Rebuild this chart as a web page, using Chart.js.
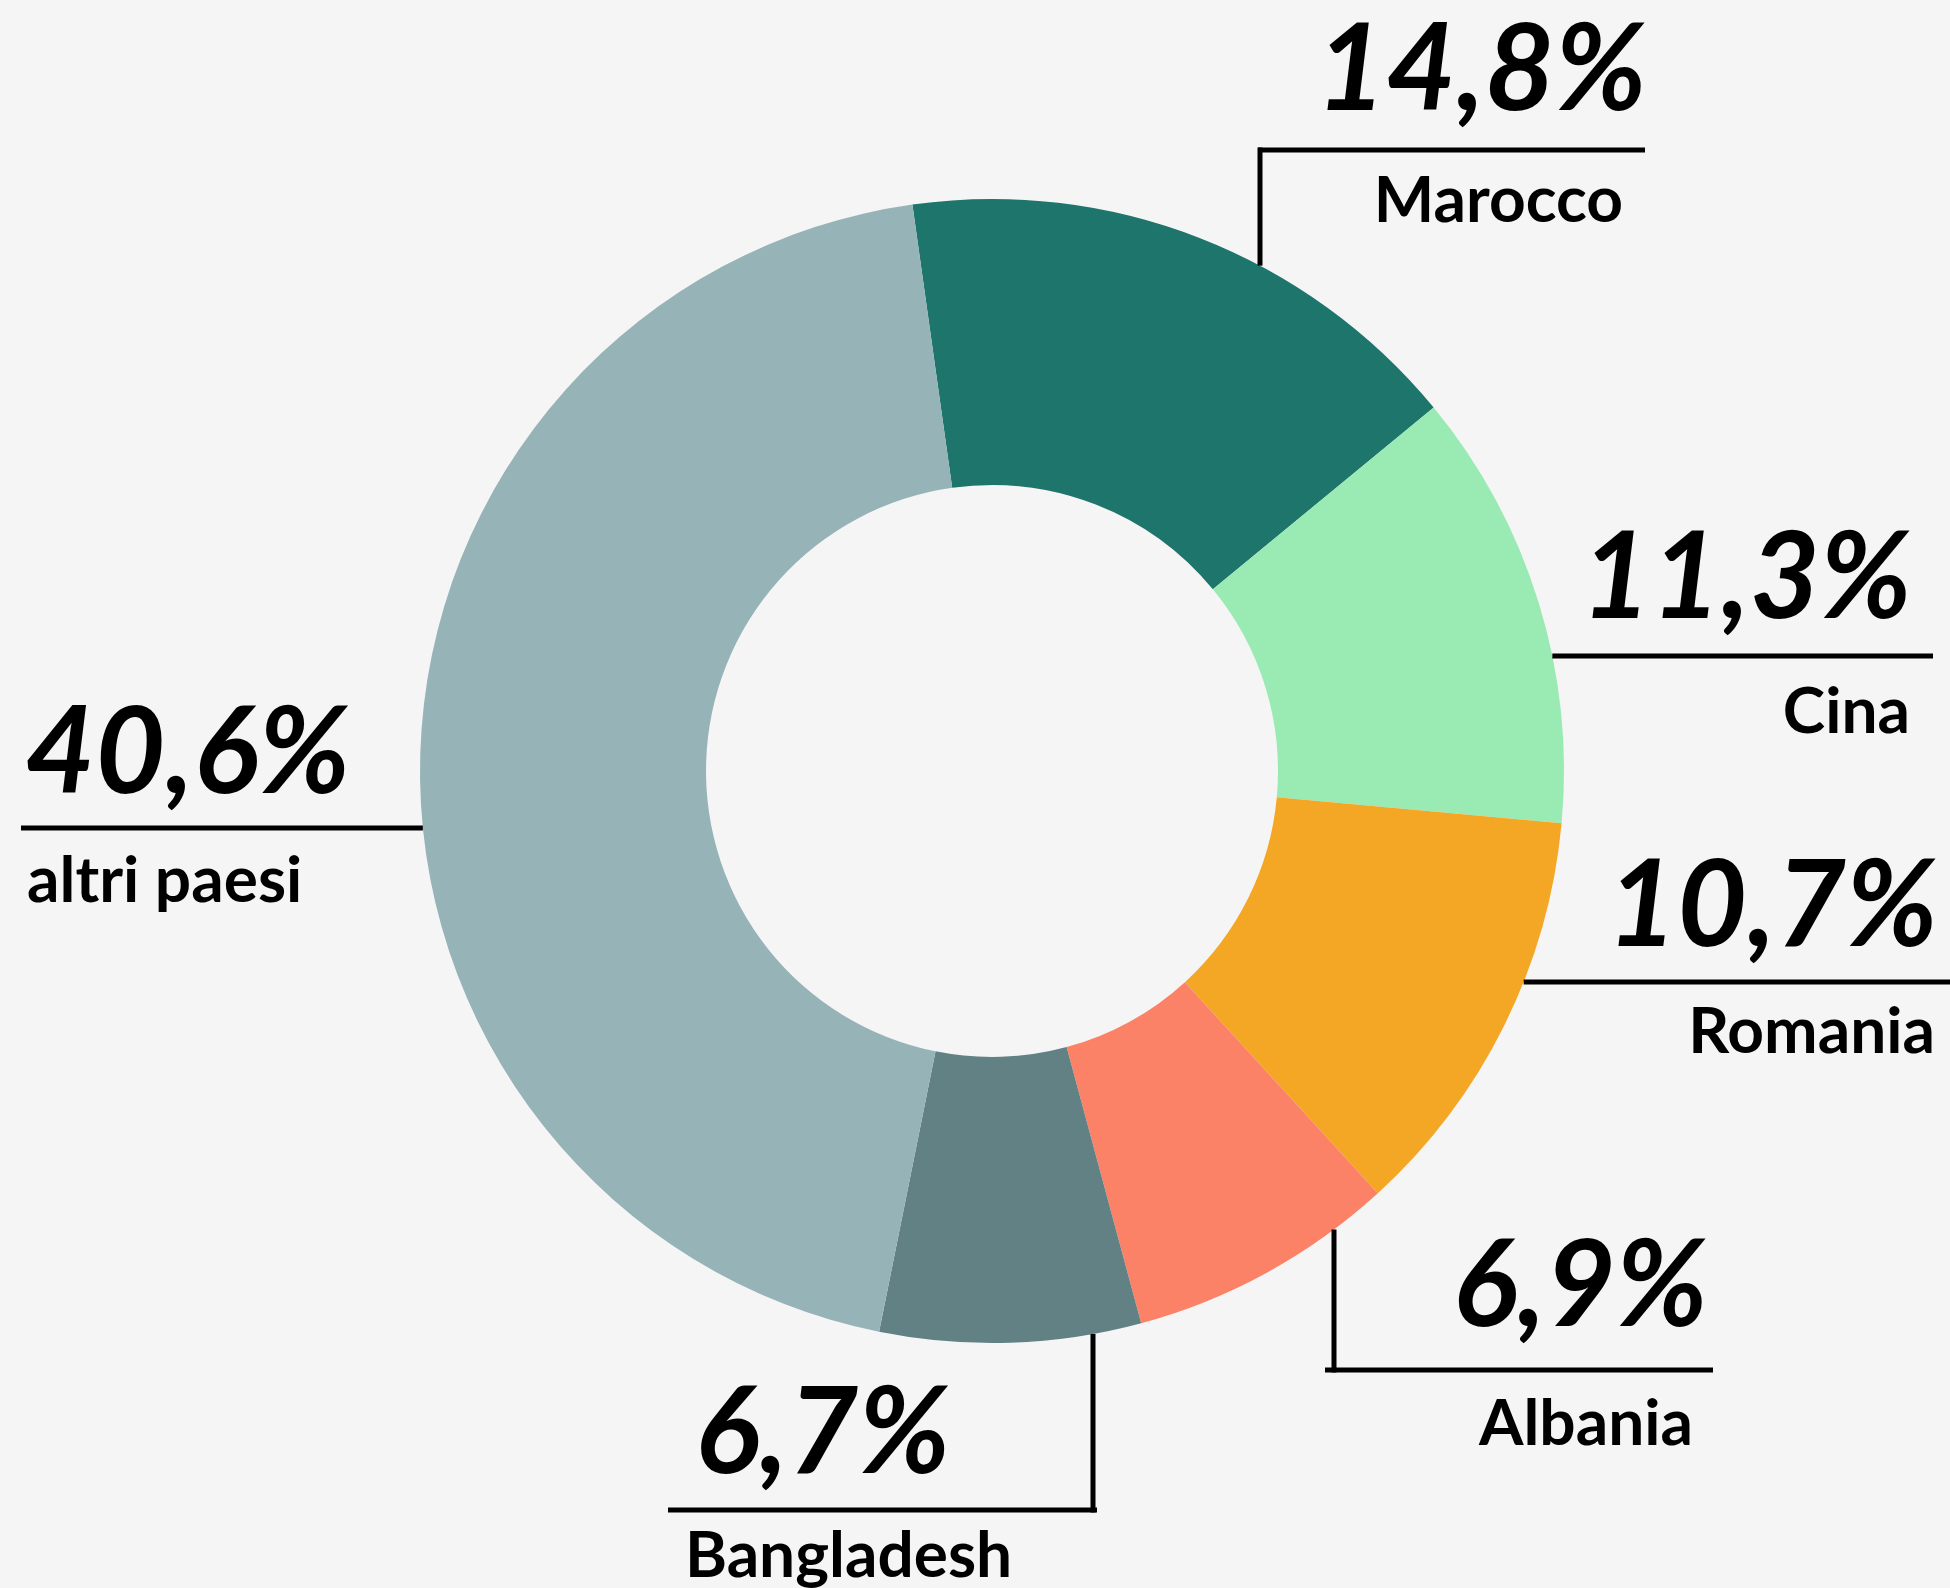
<!DOCTYPE html>
<html lang="it">
<head>
<meta charset="utf-8">
<title>Paesi di provenienza</title>
<script src="https://cdn.jsdelivr.net/npm/chart.js@4.4.1/dist/chart.umd.min.js"></script>
<style>
    html, body { margin: 0; padding: 0; background: #f5f5f5; }
    #wrap { width: 1950px; height: 1588px; position: relative; }
</style>
</head>
<body>
<div id="wrap"><canvas id="myChart"></canvas></div>
<script>
// quote per paese (%)
const paesi = ['Marocco', 'Cina', 'Romania', 'Albania', 'Bangladesh', 'altri paesi'];
const quote = [14.8, 11.3, 10.7, 6.9, 6.7, 40.6];
const colori = ['#1d756b', '#9aeab4', '#f4a724', '#fb8266', '#628185', '#96b3b8'];

// where each callout sits: number/label anchor and how the leader meets the ring
const callouts = [
    { align: 'right', x: 1647, numY: 110,  labX: 1623, labY: 222,  lineY: 150,  x1: 1258, x2: 1645, drop: 1260 },
    { align: 'right', x: 1912, numY: 618,  labX: 1910, labY: 733,  lineY: 656,  x1: null, x2: 1933 },
    { align: 'right', x: 1938, numY: 946,  labX: 1935, labY: 1053, lineY: 982,  x1: null, x2: 1950 },
    { align: 'right', x: 1708, numY: 1326, labX: 1693, labY: 1445, lineY: 1370, x1: 1325, x2: 1713, drop: 1334 },
    { align: 'left',  x: 695,  numY: 1473, labX: 685,  labY: 1577, lineY: 1510, x1: 668,  x2: 1097, drop: 1093 },
    { align: 'left',  x: 25,   numY: 793,  labX: 27,   labY: 902,  lineY: 828,  x1: 21,   x2: null }
];

function fmt(v) {
    return v.toFixed(1).replace('.', ',') + '%';
}

const calloutPlugin = {
    id: 'callouts',
    afterDraw(chart) {
        const ctx = chart.ctx;
        const meta = chart.getDatasetMeta(0);
        ctx.save();
        ctx.strokeStyle = '#000';
        ctx.fillStyle = '#000';
        ctx.lineWidth = 5;
        ctx.lineCap = 'butt';
        callouts.forEach((c, i) => {
            const arc = meta.data[i];
            const cx = arc.x, cy = arc.y, r = arc.outerRadius;
            // horizontal rule, starting on the ring when no start is given
            const dy = c.lineY - cy;
            const reach = Math.sqrt(Math.max(r * r - dy * dy, 0));
            let xa = c.x1, xb = c.x2;
            if (xa === null) xa = cx + reach;
            if (xb === null) xb = cx - reach;
            ctx.beginPath();
            ctx.moveTo(xa, c.lineY);
            ctx.lineTo(xb, c.lineY);
            ctx.stroke();
            // vertical drop to the ring
            if (c.drop) {
                const dx = c.drop - cx;
                const h = Math.sqrt(Math.max(r * r - dx * dx, 0));
                const yEdge = c.lineY < cy ? cy - h : cy + h;
                ctx.beginPath();
                ctx.moveTo(c.drop, c.lineY + (c.lineY < cy ? -2.5 : 2.5));
                ctx.lineTo(c.drop, yEdge);
                ctx.stroke();
            }
            ctx.textAlign = c.align;
            ctx.textBaseline = 'alphabetic';
            ctx.font = 'italic 700 121px Lato';
            ctx.fillText(fmt(quote[i]), c.x, c.numY);
            ctx.font = '700 64px Lato';
            ctx.fillText(paesi[i], c.labX, c.labY);
        });
        ctx.restore();
    }
};

const ctx = document.getElementById('myChart').getContext('2d');
const myChart = new Chart(ctx, {
    type: 'doughnut',
    data: {
        labels: paesi,
        datasets: [{
            data: quote,
            backgroundColor: colori,
            borderWidth: 0,
            hoverOffset: 0
        }]
    },
    options: {
        responsive: true,
        maintainAspectRatio: false,
        animation: false,
        cutout: '50%',
        rotation: -8,
        layout: {
            padding: { left: 420, right: 386, top: 199, bottom: 245 }
        },
        plugins: {
            legend: { display: false },
            tooltip: { enabled: false }
        }
    },
    plugins: [calloutPlugin]
});
</script>
</body>
</html>
